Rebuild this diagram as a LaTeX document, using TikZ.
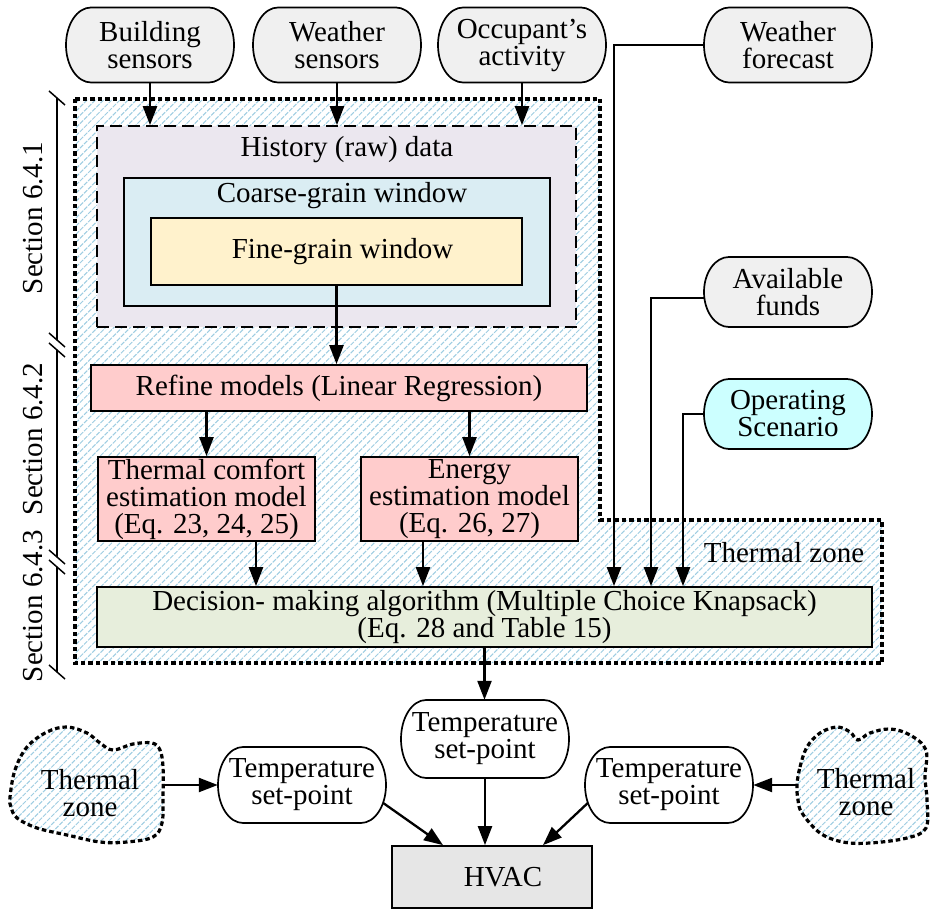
\documentclass[tikz,border=0pt]{standalone}
\usepackage{fontspec}
\setmainfont{Liberation Serif}
\usetikzlibrary{arrows.meta,patterns.meta}

\definecolor{ovalgrey}{HTML}{F0F0F0}
\definecolor{histfill}{HTML}{EBE7EF}
\definecolor{coarsefill}{HTML}{DAEDF3}
\definecolor{finefill}{HTML}{FFF2CC}
\definecolor{modelfill}{HTML}{FFCCCC}
\definecolor{decisionfill}{HTML}{E7EEDC}
\definecolor{scenariofill}{HTML}{CCFFFF}
\definecolor{hvacfill}{HTML}{E6E6E6}
\definecolor{hatchblue}{HTML}{9ECDE2}

\tikzset{
  txt/.style={font=\fontsize{29}{25}\selectfont, inner sep=0pt, align=center},
  looser/.style={font=\fontsize{29}{27}\selectfont},
  box/.style={txt, draw, line width=1.7pt},
  pillline/.style={line width=1.7pt},
  pilltext/.style={txt, looser, minimum width=168pt},
  arrow/.style={line width=2.3pt, -{Triangle[length=19pt,width=14pt]}},
  zonefill/.style={pattern={Lines[angle=45,distance=5.8pt,line width=1pt]}, pattern color=hatchblue},
  zoneline/.style={line width=3.2pt, dash pattern=on 4.5pt off 3pt},
  histline/.style={line width=1.7pt, dash pattern=on 12pt off 6pt},
  bracket/.style={line width=1.5pt},
}

% rounded "pill" outline with elliptic ends, plus a named node on top of it
% #1 name, #2 x, #3 y, #4 height, #5 fill, #6 text
\newcommand\pillnode[6]{%
  \draw[pillline,fill=#5]
    ({#2-59},{#3-#4/2}) -- ({#2+59},{#3-#4/2})
    .. controls ({#2+72.8},{#3-#4/2}) and ({#2+84},{#3-0.276*#4}) .. ({#2+84},{#3})
    .. controls ({#2+84},{#3+0.276*#4}) and ({#2+72.8},{#3+#4/2}) .. ({#2+59},{#3+#4/2})
    -- ({#2-59},{#3+#4/2})
    .. controls ({#2-72.8},{#3+#4/2}) and ({#2-84},{#3+0.276*#4}) .. ({#2-84},{#3})
    .. controls ({#2-84},{#3-0.276*#4}) and ({#2-72.8},{#3-#4/2}) .. ({#2-59},{#3-#4/2})
    -- cycle;
  \node[pilltext,minimum height=#4pt] (#1) at (#2,#3) {#6};
}

\begin{document}
\begin{tikzpicture}[x=1pt,y=-1pt]
\fill[white] (0,0) rectangle (930,909);
\useasboundingbox (0,0) rectangle (930,909);

% thermal zone region
\draw[zoneline,zonefill] (75,99) -- (600,99) -- (600,520) -- (882,520)
  -- (882,663) -- (75,663) -- cycle;
\node[txt] (tzlabel) at (784,553) {Thermal zone};

% section bracket
\draw[bracket] (57,98) -- (57,340);
\draw[bracket] (57,350) -- (57,557);
\draw[bracket] (57,567) -- (57,672);
\draw[bracket] (49,91) -- (65,105);
\draw[bracket] (49,333) -- (65,347);
\draw[bracket] (49,343) -- (65,357);
\draw[bracket] (49,550) -- (65,564);
\draw[bracket] (49,560) -- (65,574);
\draw[bracket] (49,665) -- (65,679);
\node[txt,rotate=90] (sec1) at (33,218) {Section 6.4.1};
\node[txt,rotate=90] (sec2) at (33,439) {Section 6.4.2};
\node[txt,rotate=90] (sec3) at (33,606) {Section 6.4.3};

% inputs
\pillnode{bs}{150}{45}{75}{ovalgrey}{Building\\sensors}
\pillnode{ws}{337}{45}{75}{ovalgrey}{Weather\\sensors}
\pillnode{oa}{522}{45}{75}{ovalgrey}{Occupant’s\\activity}
\pillnode{wf}{788}{45}{75}{ovalgrey}{Weather\\forecast}
\pillnode{af}{788}{292}{70}{ovalgrey}{Available\\funds}
\pillnode{os}{788}{414}{70}{scenariofill}{Operating\\Scenario}

% data windows
\node[box,histline,fill=histfill,minimum width=479pt,minimum height=201pt] (hist) at (336.5,226.5) {};
\node[txt] (histlabel) at (347,150) {History (raw) data};
\node[box,fill=coarsefill,minimum width=426pt,minimum height=128pt] (coarse) at (337,242) {};
\node[txt] (coarselabel) at (342,196) {Coarse-grain window};
\node[box,fill=finefill,minimum width=371pt,minimum height=67pt] (fine) at (336.5,251.5) {\hspace*{12pt}Fine-grain window};

% models
\node[box,fill=modelfill,minimum width=496pt,minimum height=46pt] (refine) at (339,388) {Refine models (Linear Regression)};
\node[box,looser,fill=modelfill,minimum width=217pt,minimum height=84pt] (tc) at (206.5,499) {Thermal comfort\\estimation model\\(Eq. 23, 24, 25)};
\node[box,looser,fill=modelfill,minimum width=217pt,minimum height=84pt] (en) at (469.5,499) {Energy\\estimation model\\(Eq. 26, 27)};
\node[box,fill=decisionfill,minimum width=775pt,minimum height=60pt] (dec) at (484.5,617) {Decision- making algorithm (Multiple Choice Knapsack)\\(Eq. 28 and Table 15)};

% HVAC side
\pillnode{ct}{485}{739}{78}{white}{Temperature\\set-point}
\pillnode{lt}{302}{785}{76}{white}{Temperature\\set-point}
\pillnode{rt}{669}{785}{76}{white}{Temperature\\set-point}
\node[box,fill=hvacfill,minimum width=200pt,minimum height=62pt] (hvac) at (492,877) {\hspace*{22pt}HVAC};

% neighbouring thermal zones
\draw[zoneline,zonefill] plot[smooth cycle,tension=0.6] coordinates {
  (10,797) (15,770) (27,747) (47,732) (67,727) (87,733) (100,743) (113,750)
  (133,744) (152,743) (160,750) (163,767) (163,797) (162,823) (153,837)
  (127,842) (100,842) (67,835) (37,828) (17,818) (11,807)};
\node[minimum width=154pt,minimum height=116pt,inner sep=0pt] (lz) at (87,785) {};
\node[txt,looser] (lztext) at (90,793) {Thermal\\zone};
\draw[zoneline,zonefill] plot[smooth cycle,tension=0.6] coordinates {
  (797,785) (800,767) (807,747) (820,733) (837,727) (850,732) (858,740)
  (870,733) (890,729) (910,735) (926,750) (925,777) (927,800) (926,828)
  (907,838) (870,843) (843,842) (820,833) (802,813) (798,800)};
\node[minimum width=131pt,minimum height=116pt,inner sep=0pt] (rz) at (862.5,785) {};
\node[txt,looser] (rztext) at (866,792) {Thermal\\zone};

% connectors
\draw[arrow] (bs.south) -- (bs.south |- hist.north);
\draw[arrow] (ws.south) -- (ws.south |- hist.north);
\draw[arrow] (oa.south) -- (oa.south |- hist.north);
\draw[arrow] (fine.south) -- (fine.south |- refine.north);
\draw[arrow] (tc.north |- refine.south) -- (tc.north);
\draw[arrow] (en.north |- refine.south) -- (en.north);
\draw[arrow] ([xshift=49.5pt]tc.south) -- ([xshift=49.5pt]tc.south |- dec.north);
\draw[arrow] ([xshift=-46.5pt]en.south) -- ([xshift=-46.5pt]en.south |- dec.north);
\draw[arrow] (wf.west) -| ([xshift=129.5pt]dec.north);
\draw[arrow] ([yshift=-6pt]af.west) -| ([xshift=166.5pt]dec.north);
\draw[arrow] (os.west) -| ([xshift=198.5pt]dec.north);
\draw[arrow] (dec.south) -- (dec.south |- ct.north);
\draw[arrow] (lz.east) -- (lt.west);
\draw[arrow] (rz.west) -- (rt.east);
\draw[arrow] ([xshift=-3pt,yshift=-18pt]lt.east) -- ([xshift=-49pt]hvac.north);
\draw[arrow] (ct.south) -- (ct.south |- hvac.north);
\draw[arrow] ([xshift=3pt,yshift=-18pt]rt.west) -- ([xshift=51pt]hvac.north);
\end{tikzpicture}
\end{document}
